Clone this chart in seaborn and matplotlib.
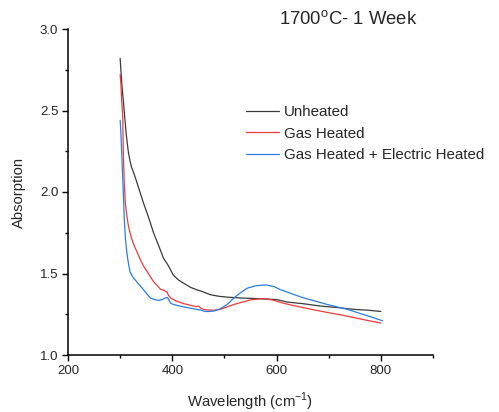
import numpy as np
import pandas as pd
import matplotlib
matplotlib.use("Agg")
import matplotlib.pyplot as plt
import seaborn as sns
from matplotlib.ticker import MultipleLocator

# ---- data ----
unheated_wl = [300, 302, 304, 306, 309, 311.5, 314, 316, 319, 322, 324, 330, 337, 345, 355, 364, 374, 383, 393, 402, 412, 422, 435, 447, 457, 473, 490, 505, 530, 569, 600, 620, 650, 685, 720, 748, 775, 800]
unheated_abs = [2.82, 2.72, 2.63, 2.565, 2.45, 2.36, 2.29, 2.24, 2.19, 2.15, 2.135, 2.08, 2.01, 1.93, 1.84, 1.75, 1.67, 1.595, 1.545, 1.49, 1.46, 1.44, 1.415, 1.40, 1.39, 1.37, 1.36, 1.355, 1.35, 1.345, 1.34, 1.325, 1.315, 1.30, 1.29, 1.28, 1.275, 1.267]

gas_wl = [300, 301.5, 303, 305, 306, 308, 310, 313, 316, 319, 322.5, 327, 332, 338, 345, 354, 364, 370, 377, 385, 388, 390, 393, 397, 402, 410, 422, 435, 445, 450, 452, 456, 463, 470, 480, 492, 505, 518, 535, 550, 569, 582, 595, 610, 630, 652, 675, 704, 717, 740, 770, 800]
gas_abs = [2.72, 2.66, 2.56, 2.46, 2.25, 2.05, 1.93, 1.85, 1.79, 1.75, 1.71, 1.67, 1.635, 1.59, 1.545, 1.50, 1.45, 1.43, 1.405, 1.395, 1.39, 1.385, 1.365, 1.35, 1.34, 1.328, 1.315, 1.305, 1.297, 1.30, 1.295, 1.285, 1.278, 1.276, 1.275, 1.28, 1.295, 1.31, 1.325, 1.338, 1.345, 1.344, 1.335, 1.32, 1.305, 1.29, 1.275, 1.257, 1.25, 1.235, 1.215, 1.196]

gaselec_wl = [300, 301.5, 303, 304, 305, 306.5, 308, 310, 313, 316, 319, 324, 329, 337, 345, 351, 358, 366, 374, 381, 386.5, 391, 394, 396, 402, 415, 430, 447, 455, 463, 472, 480, 490, 499, 506, 512, 518, 530, 544, 560, 579, 595, 608, 630, 652, 675, 697, 716, 736, 760, 780, 803]
gaselec_abs = [2.44, 2.36, 2.24, 2.16, 2.08, 1.96, 1.83, 1.72, 1.625, 1.56, 1.51, 1.48, 1.46, 1.43, 1.40, 1.375, 1.35, 1.34, 1.335, 1.34, 1.35, 1.352, 1.335, 1.32, 1.31, 1.30, 1.29, 1.28, 1.275, 1.267, 1.267, 1.27, 1.28, 1.297, 1.312, 1.33, 1.35, 1.38, 1.41, 1.425, 1.43, 1.42, 1.40, 1.375, 1.35, 1.33, 1.31, 1.295, 1.28, 1.255, 1.235, 1.21]

series_names = ["Unheated", "Gas Heated", "Gas Heated + Electric Heated"]
series_colors = ["#3a3a3a", "#f03a3a", "#2a7de1"]

x_ticks_major = [200, 400, 600, 800]
y_ticks_major = [1.0, 1.5, 2.0, 2.5, 3.0]

frames = []
for name, wl, ab in zip(series_names,
                        [unheated_wl, gas_wl, gaselec_wl],
                        [unheated_abs, gas_abs, gaselec_abs]):
    frames.append(pd.DataFrame({"Wavelength": wl, "Absorption": ab, "Sample": name}))
df = pd.concat(frames, ignore_index=True)

sns.set_style("ticks")
plt.rcParams['font.family'] = ['Liberation Sans', 'DejaVu Sans']

fig = plt.figure(figsize=(4.99, 4.12), dpi=100)
ax = fig.add_axes([68/499, 1-355/412, (433-68)/499, (355-29)/412])

sns.lineplot(data=df, x="Wavelength", y="Absorption", hue="Sample",
             hue_order=series_names, palette=series_colors, linewidth=0.9,
             ax=ax, sort=True, estimator=None)

ax.set_xlim(200, 900)
ax.set_ylim(1.0, 3.0)
ax.set_xticks(x_ticks_major)
ax.xaxis.set_minor_locator(MultipleLocator(100))
ax.set_yticks(y_ticks_major)
ax.yaxis.set_minor_locator(MultipleLocator(0.25))
ax.set_yticklabels([f"{v:.1f}" for v in y_ticks_major])
ax.tick_params(axis='both', which='major', length=4, width=1, labelsize=9.5, direction='out', color='black', pad=3)
ax.tick_params(axis='both', which='minor', length=2.5, width=1, direction='out', color='black')
for s in ["top", "right"]:
    ax.spines[s].set_visible(False)
for s in ["left", "bottom"]:
    ax.spines[s].set_linewidth(1.1)
    ax.spines[s].set_color("black")

ax.set_xlabel("Wavelength (cm$^{\\mathregular{-1}}$)", fontsize=10.7, labelpad=10)
ax.set_ylabel("Absorption", fontsize=10.7, labelpad=10)

leg = ax.legend(loc="upper left", bbox_to_anchor=(0.47, 0.785), frameon=False,
                fontsize=10.9, handlelength=2.2, handletextpad=0.35, labelspacing=0.5,
                borderaxespad=0)
for line in leg.get_lines():
    line.set_linewidth(0.9)

fig.text(0.698, 0.955, "1700$^{\\mathregular{o}}$C- 1 Week", fontsize=13.3, ha="center", va="center")

fig.savefig("out.png", dpi=100)
